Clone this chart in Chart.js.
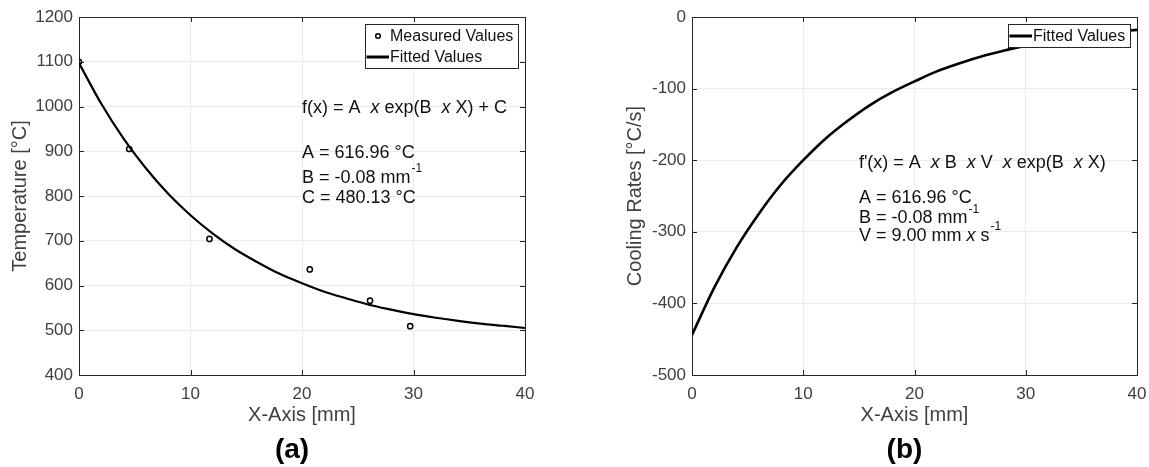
<!DOCTYPE html>
<html lang="en">
<head>
  <meta charset="UTF-8" />
  <title>Temperature fit and cooling rate</title>
  <script src="https://cdn.jsdelivr.net/npm/chart.js"></script>
  <style>
    * {
      margin: 0;
      padding: 0;
      box-sizing: border-box;
    }

    body {
      background: #fff;
      width: 1149px;
      height: 467px;
      overflow: hidden;
      position: relative;
    }

    .panel {
      position: absolute;
      top: 0;
      height: 467px;
    }

    #panelA { left: 0; width: 574px; }
    #panelB { left: 574px; width: 575px; }
  </style>
</head>
<body>

  <div class="panel" id="panelA"><canvas id="chartA"></canvas></div>
  <div class="panel" id="panelB"><canvas id="chartB"></canvas></div>

  <script>
    // measured points
    const measuredX = [0, 4.5, 11.7, 20.7, 26.1, 29.7];
    const measuredTemp = [1100, 905, 704, 636, 566, 509];

    // fitted curves, read every 2 mm
    const fitX = [0, 2, 4, 6, 8, 10, 12, 14, 16, 18, 20, 22, 24, 26, 28, 30, 32, 34, 36, 38, 40];
    const fitTemp = [1097, 1006, 928, 862, 805, 757, 716, 681, 652, 626, 605, 586, 571, 557, 546, 536, 528, 521, 515, 510, 505];
    const coolingRate = [-444, -378, -322, -275, -234, -200, -170, -145, -123, -105, -90, -76, -65, -55, -47, -40, -34, -29, -25, -21, -18];

    // tick labels
    const xTicks = [0, 10, 20, 30, 40];
    const tempTicks = [400, 500, 600, 700, 800, 900, 1000, 1100, 1200];
    const rateTicks = [-500, -400, -300, -200, -100, 0];

    const FONT = "'Liberation Sans', Arial, Helvetica, sans-serif";
    const axisGray = '#404040';
    const edgeColor = '#262626';
    const gridColor = '#ebebeb';

    const pts = (xs, ys) => xs.map((v, i) => ({ x: v, y: ys[i] }));
    const al = v => Math.round(v) + 0.5;

    // box, inward ticks, text notes, legend and panel letter (MATLAB look)
    const matlabBox = {
      id: 'matlabBox',
      afterDraw(chart, args, opts) {
        const { ctx, chartArea: a, scales: { x, y } } = chart;
        ctx.save();

        ctx.strokeStyle = edgeColor;
        ctx.lineWidth = 1;
        ctx.beginPath();
        ctx.moveTo(al(a.left), al(a.top));
        ctx.lineTo(al(a.right), al(a.top));
        ctx.lineTo(al(a.right), al(a.bottom));
        const tl = 5;
        x.ticks.forEach(t => {
          const px = al(x.getPixelForValue(t.value));
          ctx.moveTo(px, a.bottom); ctx.lineTo(px, a.bottom - tl);
          ctx.moveTo(px, a.top); ctx.lineTo(px, a.top + tl);
        });
        y.ticks.forEach(t => {
          const py = al(y.getPixelForValue(t.value));
          ctx.moveTo(a.left, py); ctx.lineTo(a.left + tl, py);
          ctx.moveTo(a.right, py); ctx.lineTo(a.right - tl, py);
        });
        ctx.stroke();

        // formula notes, anchored in data units
        ctx.fillStyle = '#111';
        ctx.textBaseline = 'middle';
        ctx.textAlign = 'left';
        (opts.notes || []).forEach(n => {
          let px = x.getPixelForValue(n.x);
          const py = y.getPixelForValue(n.y);
          n.parts.forEach(([txt, st]) => {
            if (st === 's') {
              ctx.font = '12px ' + FONT;
              ctx.fillText(txt, px + 1, py - 9);
              px += ctx.measureText(txt).width + 1;
            } else {
              ctx.font = (st === 'i' ? 'italic ' : '') + '18px ' + FONT;
              ctx.fillText(txt, px, py);
              px += ctx.measureText(txt).width;
            }
          });
        });

        // legend in the north-east corner
        const items = opts.legend || [];
        if (items.length) {
          ctx.font = '16px ' + FONT;
          const tw = Math.max(...items.map(it => ctx.measureText(it.label).width));
          const w = Math.round(25 + tw + 5);
          const h = 2 + 21 * items.length;
          const bx = Math.round(a.right - 7 - w);
          const by = Math.round(a.top + 7);
          ctx.fillStyle = '#fff';
          ctx.fillRect(bx, by, w, h);
          ctx.strokeStyle = edgeColor;
          ctx.strokeRect(bx + 0.5, by + 0.5, w, h);
          items.forEach((it, i) => {
            const cy = by + 1.5 + 10.5 + 21 * i;
            ctx.strokeStyle = '#000';
            if (it.kind === 'marker') {
              ctx.lineWidth = 1.5;
              ctx.beginPath();
              ctx.arc(bx + 13, cy, 2.3, 0, Math.PI * 2);
              ctx.stroke();
            } else {
              ctx.lineWidth = 3;
              ctx.beginPath();
              ctx.moveTo(bx + 1.5, cy);
              ctx.lineTo(bx + 24, cy);
              ctx.stroke();
            }
            ctx.fillStyle = '#111';
            ctx.fillText(it.label, bx + 25, cy + 0.5);
          });
        }

        // panel letter under the axis title
        if (opts.label) {
          ctx.font = 'bold 28px ' + FONT;
          ctx.textAlign = 'center';
          ctx.fillStyle = '#000';
          ctx.fillText(opts.label, (a.left + a.right) / 2 - 10, 450);
        }
        ctx.restore();
      }
    };

    function makeScales(yTicks, yMin, yMax, yTitle, yWidth, yTitlePad) {
      const tickFont = { family: FONT, size: 17 };
      const titleFont = { family: FONT, size: 20 };
      return {
        x: {
          type: 'linear',
          min: 0,
          max: 40,
          afterBuildTicks: s => { s.ticks = xTicks.map(v => ({ value: v })); },
          afterFit: s => { s.height = 92; s.paddingLeft = 0; s.paddingRight = 0; },
          grid: { color: gridColor, drawTicks: false },
          border: { color: edgeColor },
          ticks: { font: tickFont, color: axisGray, padding: 9, maxRotation: 0, callback: v => String(v) },
          title: { display: true, text: 'X-Axis [mm]', font: titleFont, color: axisGray, padding: { top: 0, bottom: 40 } }
        },
        y: {
          type: 'linear',
          min: yMin,
          max: yMax,
          afterBuildTicks: s => { s.ticks = yTicks.map(v => ({ value: v })); },
          afterFit: s => { s.width = yWidth; s.paddingTop = 0; s.paddingBottom = 0; },
          grid: { color: gridColor, drawTicks: false },
          border: { color: edgeColor },
          ticks: { font: tickFont, color: axisGray, padding: 6, callback: v => String(v) },
          title: { display: true, text: yTitle, font: titleFont, color: axisGray, padding: { top: yTitlePad, bottom: 0 } }
        }
      };
    }

    new Chart(document.getElementById('chartA'), {
      type: 'scatter',
      data: {
        datasets: [
          {
            label: 'Fitted Values',
            data: pts(fitX, fitTemp),
            showLine: true,
            cubicInterpolationMode: 'monotone',
            borderColor: '#000',
            borderWidth: 2.2,
            pointRadius: 0,
            order: 1
          },
          {
            label: 'Measured Values',
            data: pts(measuredX, measuredTemp),
            showLine: false,
            pointStyle: 'circle',
            pointRadius: 2.6,
            pointBorderWidth: 1.5,
            pointBorderColor: '#000',
            pointBackgroundColor: 'rgba(0,0,0,0)',
            order: 0
          }
        ]
      },
      options: {
        responsive: true,
        maintainAspectRatio: false,
        animation: false,
        layout: { padding: { left: 0, right: 49, top: 17, bottom: 0 } },
        scales: makeScales(tempTicks, 400, 1200, 'Temperature [°C]', 79, 8),
        plugins: {
          legend: { display: false },
          tooltip: { enabled: false },
          matlabBox: {
            label: '(a)',
            legend: [
              { label: 'Measured Values', kind: 'marker' },
              { label: 'Fitted Values', kind: 'line' }
            ],
            notes: [
              { x: 20, y: 997, parts: [['f(x) = A  ', 'n'], ['x', 'i'], [' exp(B  ', 'n'], ['x', 'i'], [' X) + C', 'n']] },
              { x: 20, y: 896, parts: [['A = 616.96 °C', 'n']] },
              { x: 20, y: 840, parts: [['B = -0.08 mm', 'n'], ['-1', 's']] },
              { x: 20, y: 795, parts: [['C = 480.13 °C', 'n']] }
            ]
          }
        }
      },
      plugins: [matlabBox]
    });

    new Chart(document.getElementById('chartB'), {
      type: 'scatter',
      data: {
        datasets: [
          {
            label: 'Fitted Values',
            data: pts(fitX, coolingRate),
            showLine: true,
            cubicInterpolationMode: 'monotone',
            borderColor: '#000',
            borderWidth: 2.6,
            pointRadius: 0
          }
        ]
      },
      options: {
        responsive: true,
        maintainAspectRatio: false,
        animation: false,
        layout: { padding: { left: 0, right: 12, top: 17, bottom: 0 } },
        scales: makeScales(rateTicks, -500, 0, 'Cooling Rates [°C/s]', 118, 49),
        plugins: {
          legend: { display: false },
          tooltip: { enabled: false },
          matlabBox: {
            label: '(b)',
            legend: [
              { label: 'Fitted Values', kind: 'line' }
            ],
            notes: [
              { x: 15, y: -204, parts: [["f'(x) = A  ", 'n'], ['x', 'i'], [' B  ', 'n'], ['x', 'i'], [' V  ', 'n'], ['x', 'i'], [' exp(B  ', 'n'], ['x', 'i'], [' X)', 'n']] },
              { x: 15, y: -253, parts: [['A = 616.96 °C', 'n']] },
              { x: 15, y: -281, parts: [['B = -0.08 mm', 'n'], ['-1', 's']] },
              { x: 15, y: -306, parts: [['V = 9.00 mm ', 'n'], ['x', 'i'], [' s', 'n'], ['-1', 's']] }
            ]
          }
        }
      },
      plugins: [matlabBox]
    });
  </script>

</body>
</html>
